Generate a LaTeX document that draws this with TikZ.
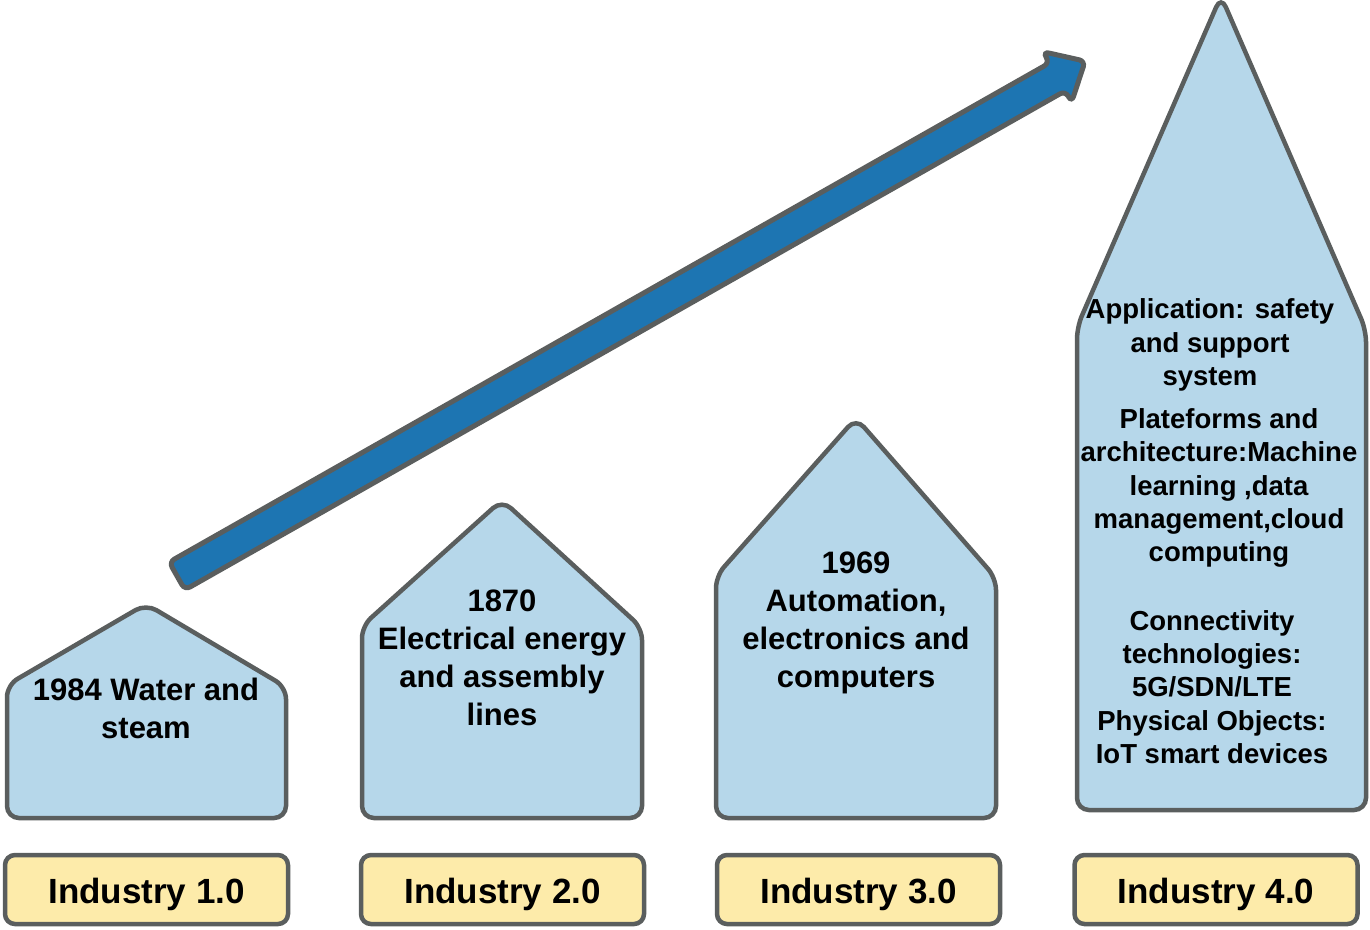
\documentclass[tikz,border=0pt]{standalone}
\usepackage{fontspec}
\setmainfont{Liberation Sans}
\usepackage{xcolor}
\usepackage{tikz}
\usetikzlibrary{positioning}

\definecolor{houseblue}{RGB}{182,215,234}
\definecolor{edgegray}{RGB}{90,94,94}
\definecolor{arrowblue}{RGB}{29,117,178}
\definecolor{labelyellow}{RGB}{253,235,170}

\begin{document}
\begin{tikzpicture}[x=1pt,y=-1pt,
  house/.style={draw=edgegray,fill=houseblue,line width=4.5pt,rounded corners=12pt},
  era/.style={draw=edgegray,fill=labelyellow,line width=4.5pt,rounded corners=10pt,
    minimum width=283pt,minimum height=69pt,inner sep=0pt,text height=28.5pt,text depth=0pt,
    font=\fontsize{35}{40}\selectfont\bfseries},
  txt/.style={align=center,inner sep=0pt,font=\fontsize{31}{38}\selectfont\bfseries},
  smalltxt/.style={align=center,inner sep=0pt,font=\fontsize{27.5}{33.3}\selectfont\bfseries}]
  \useasboundingbox (0,0) rectangle (1370,929);

  \begin{scope}[shift={(177,576)},rotate=29.55]
    \draw[draw=edgegray,fill=arrowblue,line width=5pt,rounded corners=6pt]
      (0,-16) -- (1012,-16) -- (1012,-29) -- (1044,0) -- (1012,29) -- (1012,16) -- (0,16) -- cycle;
  \end{scope}

  \draw[house] (7,818) -- (7,685) -- (146,604) -- (286,687) -- (286,818) -- cycle;
  \draw[house] (362,818) -- (362,626) -- (502,500) -- (642,628) -- (642,818) -- cycle;
  \draw[house] (716,818) -- (716,576) -- (856,418) -- (996,578) -- (996,818) -- cycle;
  \draw[house] (1077,810) -- (1077,327) -- (1221,-4) -- (1366,330) -- (1366,810) -- cycle;

  \node[txt] (water) at (146,708) {1984 Water and\\steam};
  \node[txt] (electric) at (502,658) {1870\\Electrical energy\\and assembly\\lines};
  \node[txt] (automation) at (856,623) {1969\\Automation,\\electronics and\\computers};
  \node[smalltxt] (application) at (1210,345) {Application: safety\\and support\\system};
  \node[smalltxt] (platform) at (1219,488) {Plateforms and\\architecture:Machine\\learning ,data\\management,cloud\\computing};
  \node[smalltxt] (connect) at (1212,687) {Connectivity\\technologies:\\5G/SDN/LTE\\Physical Objects:\\IoT smart devices};

  \node[era] (ind1) at (146.5,889.5) {Industry 1.0};
  \node[era] (ind2) at (502.5,889.5) {Industry 2.0};
  \node[era] (ind3) at (858.5,889.5) {Industry 3.0};
  \node[era] (ind4) at (1216,889.5) {Industry 4.0};
\end{tikzpicture}
\end{document}
